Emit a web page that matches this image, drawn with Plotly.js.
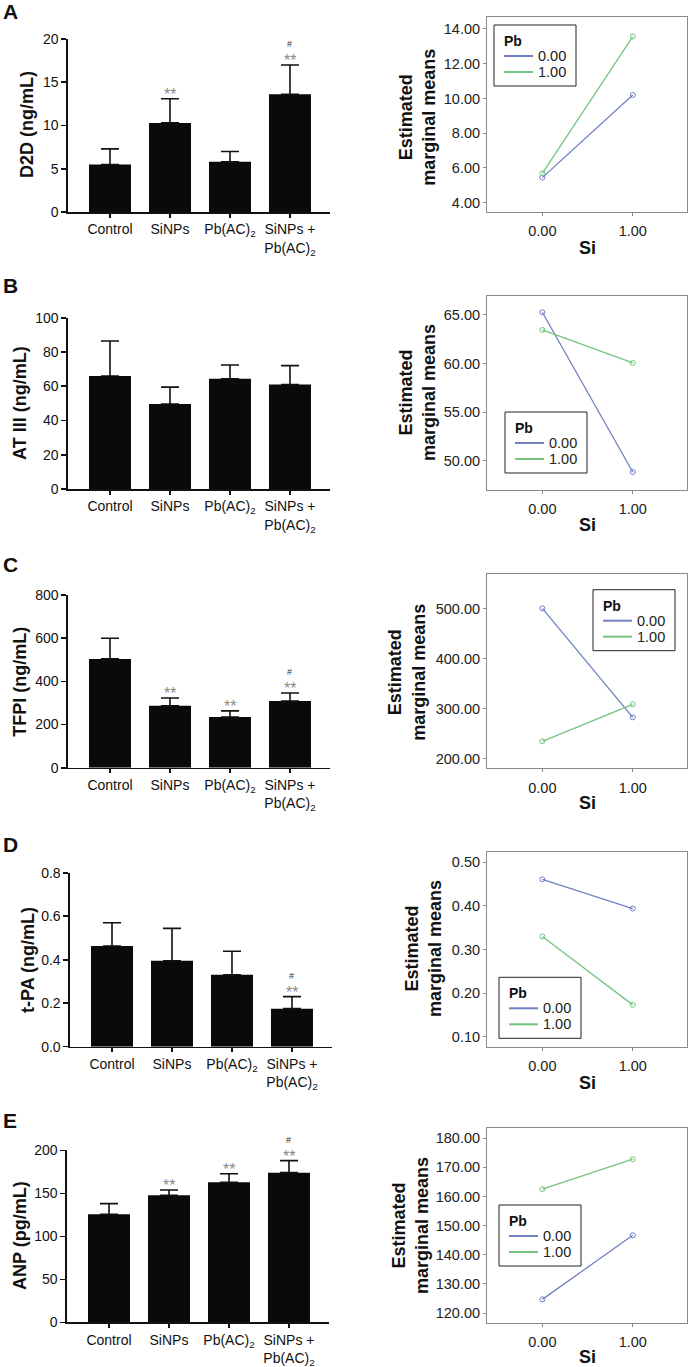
<!DOCTYPE html>
<html>
<head>
<meta charset="utf-8">
<script src="https://cdn.plot.ly/plotly-3.0.1.min.js"></script>
<style>html,body{margin:0;padding:0;background:#fff;}#chart{width:689px;height:1367px;}</style>
</head>
<body>
<div id="chart"></div>
<script>
// ---------- DATA ----------
const groups = ['Control', 'SiNPs', 'Pb(AC)<sub>2</sub>', 'SiNPs +<br>Pb(AC)<sub>2</sub>'];
const panelLetters = ['A', 'B', 'C', 'D', 'E'];
const yTitles = ['D2D (ng/mL)', 'AT III (ng/mL)', 'TFPI (ng/mL)', 't-PA (ng/mL)', 'ANP (pg/mL)'];

const d2dMean = [5.5, 10.3, 5.8, 13.6];
const d2dSD   = [1.8, 2.8, 1.2, 3.4];
const at3Mean = [66.0, 49.6, 64.4, 61.0];
const at3SD   = [20.4, 9.9, 8.0, 11.0];
const tfpiMean = [504, 287, 235, 309];
const tfpiSD   = [96, 36, 28, 37];
const tpaMean = [0.463, 0.395, 0.331, 0.175];
const tpaSD   = [0.107, 0.149, 0.108, 0.055];
const anpMean = [125.6, 147.7, 162.8, 174.0];
const anpSD   = [12.4, 6.1, 10.0, 14.0];

const d2dStars  = ['', '**', '', '**'];   const d2dHash  = ['', '', '', '#'];
const at3Stars  = ['', '', '', ''];       const at3Hash  = ['', '', '', ''];
const tfpiStars = ['', '**', '**', '**']; const tfpiHash = ['', '', '', '#'];
const tpaStars  = ['', '', '', '**'];     const tpaHash  = ['', '', '', '#'];
const anpStars  = ['', '**', '**', '**']; const anpHash  = ['', '', '', '#'];

// Estimated marginal means (x = Si 0/1), series Pb 0.00 / 1.00
const siLevels = [0, 1];
const legendTitle = 'Pb';
const pbNames = ['0.00', '1.00'];
const d2dPb0 = [5.44, 10.20];  const d2dPb1 = [5.69, 13.56];
const at3Pb0 = [65.28, 48.87]; const at3Pb1 = [63.46, 60.07];
const tfpiPb0 = [500.7, 282.8]; const tfpiPb1 = [234.8, 308.8];
const tpaPb0 = [0.461, 0.394]; const tpaPb1 = [0.330, 0.173];
const anpPb0 = [124.7, 146.7]; const anpPb1 = [162.5, 172.8];

const barYMax = [20, 100, 800, 0.8, 200];
const barDtick = [5, 20, 200, 0.2, 50];
const lineTick0 = [4, 50, 200, 0.1, 120];
const lineDtick = [2, 5, 100, 0.1, 10];

// ---------- LAYOUT (positions in px) ----------
const W = 689, H = 1367;
const px = x => x / W;
const py = y => 1 - y / H;

const means = [d2dMean, at3Mean, tfpiMean, tpaMean, anpMean];
const sds = [d2dSD, at3SD, tfpiSD, tpaSD, anpSD];
const stars = [d2dStars, at3Stars, tfpiStars, tpaStars, anpStars];
const hashes = [d2dHash, at3Hash, tfpiHash, tpaHash, anpHash];
const emm0 = [d2dPb0, at3Pb0, tfpiPb0, tpaPb0, anpPb0];
const emm1 = [d2dPb1, at3Pb1, tfpiPb1, tpaPb1, anpPb1];

const barPos = [
  {ax: 68, top: 39, bot: 212, tx: 27, ty: 125, ly: 11},
  {ax: 68, top: 317.7, bot: 489, tx: 20, ty: 403, ly: 286},
  {ax: 68, top: 595, bot: 767.7, tx: 20, ty: 681.7, ly: 564},
  {ax: 70, top: 872.7, bot: 1046.7, tx: 28, ty: 960, ly: 844},
  {ax: 67, top: 1150.3, bot: 1322.3, tx: 20, ty: 1236, ly: 1120}
];
const linePos = [
  {top: 17, bot: 212, lo: 3.46, hi: 14.69, tx: 416.7, ty: 117, lgx: 494, lgy: 25, sy: 248},
  {top: 295.7, bot: 490, lo: 47.02, hi: 66.98, tx: 417, ty: 393, lgx: 505, lgy: 412, sy: 525},
  {top: 573.7, bot: 768.3, lo: 180.8, hi: 570, tx: 407, ty: 671.7, lgx: 593, lgy: 589.7, sy: 803},
  {top: 852.3, bot: 1046.7, lo: 0.077, hi: 0.523, tx: 424, ty: 949, lgx: 499, lgy: 977.3, sy: 1082.7},
  {top: 1127.7, bot: 1322.7, lo: 116.7, hi: 183.6, tx: 410, ty: 1226, lgx: 499, lgy: 1205, sy: 1356.7}
];

const FONT = 'Arial, "Liberation Sans", Helvetica, sans-serif';
const BLUE = '#7080c2', GREEN = '#74c47f';
const seriesColors = [BLUE, GREEN];

const traces = [];
const layout = {
  width: W, height: H,
  margin: {l: 0, r: 0, t: 0, b: 0},
  paper_bgcolor: '#fff', plot_bgcolor: '#fff',
  font: {family: FONT, color: '#111', size: 14},
  showlegend: false,
  annotations: [],
  shapes: []
};

for (let i = 0; i < 5; i++) {
  const bn = 2 * i + 1, ln = 2 * i + 2;
  const bx = 'x' + (bn === 1 ? '' : bn), by = 'y' + (bn === 1 ? '' : bn);
  const lx = 'x' + ln, ly = 'y' + ln;
  const bp = barPos[i], lp = linePos[i];

  // bar chart
  traces.push({
    type: 'bar', x: groups, y: means[i], xaxis: bx, yaxis: by,
    marker: {color: '#0a0a0a', line: {width: 0}}, width: 0.7, showlegend: false,
    error_y: {type: 'data', symmetric: false, array: sds[i], arrayminus: [0, 0, 0, 0],
              color: '#111', thickness: 1.6, width: 9},
    hoverinfo: 'skip'
  });
  layout['xaxis' + (bn === 1 ? '' : bn)] = {
    domain: [px(bp.ax), px(bp.ax + 262)], anchor: by, type: 'category',
    range: [-0.7, 3.667], showline: true, linecolor: '#111', linewidth: 1.6,
    ticks: 'outside', ticklen: 4, tickwidth: 1.6, tickcolor: '#111',
    tickfont: {size: 14, family: FONT, color: '#111'}, showgrid: false, zeroline: false, fixedrange: true
  };
  layout['yaxis' + (bn === 1 ? '' : bn)] = {
    domain: [py(bp.bot), py(bp.top)], anchor: bx,
    range: [0, barYMax[i]], dtick: barDtick[i], tick0: 0,
    tickformat: i === 3 ? '.1f' : '', showline: true, linecolor: '#111', linewidth: 1.6,
    ticks: 'outside', ticklen: 5, tickwidth: 1.6, tickcolor: '#111',
    tickfont: {size: 14, family: FONT, color: '#111'}, showgrid: false, zeroline: false, fixedrange: true
  };
  layout.annotations.push({
    xref: 'paper', yref: 'paper', x: px(bp.tx), y: py(bp.ty), text: '<b>' + yTitles[i] + '</b>',
    textangle: -90, showarrow: false, xanchor: 'center', yanchor: 'middle',
    font: {size: 18, family: FONT, color: '#111'}
  });
  layout.annotations.push({
    xref: 'paper', yref: 'paper', x: px(10), y: py(bp.ly), text: '<b>' + panelLetters[i] + '</b>',
    showarrow: false, xanchor: 'center', yanchor: 'middle',
    font: {size: 21, family: FONT, color: '#111'}
  });
  for (let j = 0; j < 4; j++) {
    const top = means[i][j] + sds[i][j];
    if (stars[i][j]) layout.annotations.push({
      xref: bx, yref: by, x: j, y: top, text: stars[i][j], showarrow: false,
      xanchor: 'center', yanchor: 'bottom', yshift: -6,
      font: {size: 16, family: FONT, color: '#8a8a8a'}
    });
    if (hashes[i][j]) layout.annotations.push({
      xref: bx, yref: by, x: j, y: top, text: hashes[i][j], showarrow: false,
      xanchor: 'center', yanchor: 'bottom', yshift: 14,
      font: {size: 9, family: FONT, color: '#333'}
    });
  }

  // interaction line chart
  [emm0[i], emm1[i]].forEach((vals, k) => {
    traces.push({
      type: 'scatter', mode: 'lines+markers', x: siLevels, y: vals, xaxis: lx, yaxis: ly,
      name: pbNames[k], line: {color: seriesColors[k], width: 1.3},
      marker: {symbol: 'circle-open', size: 5, color: seriesColors[k], line: {width: 1}},
      hoverinfo: 'skip'
    });
  });
  layout['xaxis' + ln] = {
    domain: [px(487), px(687)], anchor: ly, range: [-0.612, 1.6],
    tickvals: siLevels, tickformat: '.2f', showline: true, mirror: true,
    linecolor: '#8a8a8a', linewidth: 1, ticks: 'outside', ticklen: 3, tickcolor: '#8a8a8a',
    tickfont: {size: 14.5, family: FONT, color: '#222'}, ticklabelstandoff: 3,
    showgrid: false, zeroline: false, fixedrange: true
  };
  layout['yaxis' + ln] = {
    domain: [py(lp.bot), py(lp.top)], anchor: lx, range: [lp.lo, lp.hi],
    tick0: lineTick0[i], dtick: lineDtick[i], tickformat: '.2f', showline: true, mirror: true,
    linecolor: '#8a8a8a', linewidth: 1, ticks: 'outside', ticklen: 3, tickcolor: '#8a8a8a',
    tickfont: {size: 14.5, family: FONT, color: '#222'},
    showgrid: false, zeroline: false, fixedrange: true
  };

  // legend box (drawn)
  const L = lp.lgx, T = lp.lgy;
  layout.shapes.push({type: 'rect', xref: 'paper', yref: 'paper',
    x0: px(L), x1: px(L + 82), y0: py(T), y1: py(T + 61),
    line: {color: '#222', width: 1}, fillcolor: '#fff', layer: 'above'});
  layout.annotations.push({xref: 'paper', yref: 'paper', x: px(L + 8), y: py(T + 16),
    text: '<b>' + legendTitle + '</b>', showarrow: false, xanchor: 'left', yanchor: 'middle',
    font: {size: 14, family: FONT, color: '#111'}});
  pbNames.forEach((nm, k) => {
    const yy = T + 31 + 16 * k;
    layout.shapes.push({type: 'line', xref: 'paper', yref: 'paper',
      x0: px(L + 10), x1: px(L + 39), y0: py(yy), y1: py(yy),
      line: {color: seriesColors[k], width: 2}, layer: 'above'});
    layout.annotations.push({xref: 'paper', yref: 'paper', x: px(L + 42), y: py(yy),
      text: nm, showarrow: false, xanchor: 'left', yanchor: 'middle',
      font: {size: 14.5, family: FONT, color: '#222'}});
  });

  layout.annotations.push({
    xref: 'paper', yref: 'paper', x: px(lp.tx), y: py(lp.ty), text: '<b>Estimated<br>marginal means</b>',
    textangle: -90, showarrow: false, xanchor: 'center', yanchor: 'middle',
    font: {size: 18, family: FONT, color: '#111'}
  });
  layout.annotations.push({
    xref: 'paper', yref: 'paper', x: px(587), y: py(lp.sy), text: '<b>Si</b>',
    showarrow: false, xanchor: 'center', yanchor: 'middle',
    font: {size: 18, family: FONT, color: '#111'}
  });
}

Plotly.newPlot('chart', traces, layout, {displayModeBar: false, staticPlot: true});
</script>
</body>
</html>
